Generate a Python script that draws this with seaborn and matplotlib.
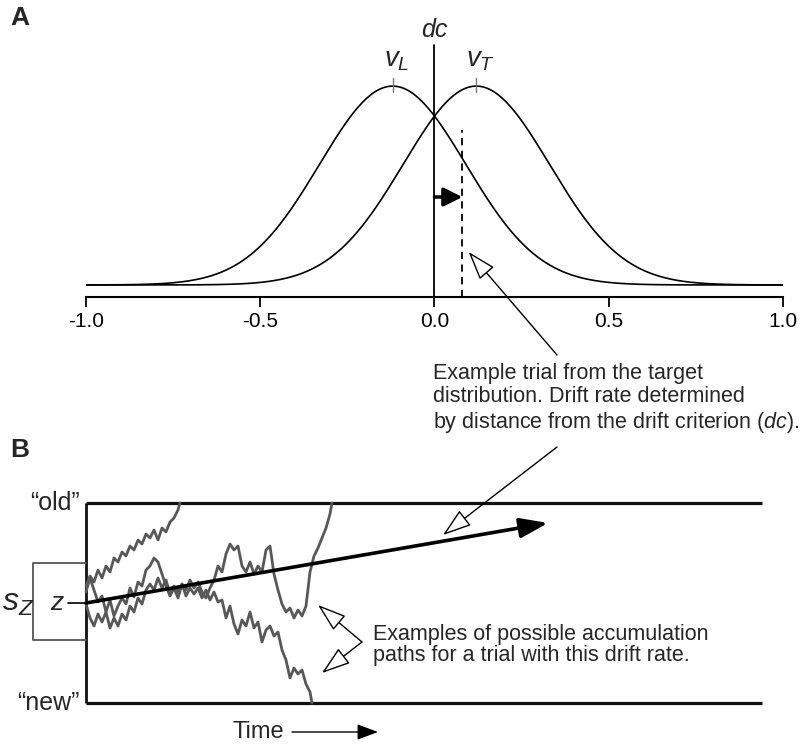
import numpy as np
import seaborn as sns
import matplotlib.pyplot as plt

# panel A: lure / target drift distributions
means = [-0.12, 0.12]          # v_L, v_T
mean_labels = [r'$v_L$', r'$v_T$']
sd = 0.21
drift_criterion = 0.0
trial_drift = 0.08
xticks = [-1.0, -0.5, 0.0, 0.5, 1.0]
xtick_labels = ['-1.0', '-0.5', '0.0', '0.5', '1.0']

# panel B: accumulation paths (time steps, evidence between "new"=0 and "old"=2)
bounds = [0.0, 2.0]
t_end = 676
z_start = 1.0
sz_range = [0.63, 1.40]
drift_end = [462, 1.80]

pathA_t = [0, 4, 8, 12, 16, 20, 24, 28, 32, 36, 40, 44, 48, 52, 56, 60, 64, 68, 72, 76,
           80, 84, 88, 92, 94]
pathA_e = [1.17, 1.27, 1.21, 1.33, 1.25, 1.37, 1.31, 1.45, 1.41, 1.51, 1.47, 1.57, 1.53,
           1.63, 1.59, 1.69, 1.65, 1.73, 1.63, 1.75, 1.71, 1.81, 1.85, 1.93, 2.00]

pathB_t = [0, 4, 8, 12, 16, 20, 24, 28, 32, 36, 40, 44, 48, 52, 56, 60, 64, 68, 72, 76,
           80, 84, 88, 92, 96, 100, 104, 108, 112, 116, 120, 124, 128, 132, 136, 140, 144,
           148, 152, 156, 160, 164, 168, 172, 176, 180, 184, 188, 192, 196, 200, 204, 208,
           212, 216, 220, 224, 228, 232, 236, 240, 244, 246]
pathB_e = [1.11, 1.25, 1.13, 1.01, 1.07, 0.91, 1.03, 0.87, 0.97, 1.05,
           0.99, 1.15, 1.06, 1.21, 1.17, 1.33, 1.37, 1.45, 1.41, 1.29,
           1.17, 1.07, 1.15, 1.05, 1.19, 1.13, 1.23, 1.15, 1.21, 1.11,
           1.05, 1.15, 1.23, 1.37, 1.31, 1.49, 1.59, 1.53, 1.57, 1.37,
           1.31, 1.41, 1.29, 1.37, 1.31, 1.53, 1.57, 1.29, 1.13, 0.99,
           0.91, 0.95, 0.85, 0.93, 0.87, 0.97, 1.31, 1.47, 1.55, 1.65,
           1.75, 1.89, 2.00]

pathC_t = [0, 4, 8, 12, 16, 20, 24, 28, 32, 36, 40, 44, 48, 52, 56, 60, 64, 68, 72, 76,
           80, 84, 88, 92, 96, 100, 104, 108, 112, 116, 120, 124, 128, 132, 136, 140, 144,
           148, 152, 156, 160, 164, 168, 172, 176, 180, 184, 188, 192, 196, 200, 204, 208,
           212, 216, 220, 224, 226]
pathC_e = [0.99, 0.85, 0.77, 0.89, 0.81, 0.91, 0.75, 0.85, 0.77, 0.89,
           0.83, 0.97, 0.91, 1.05, 0.99, 1.13, 1.19, 1.13, 1.25, 1.15,
           1.23, 1.09, 1.17, 1.11, 1.19, 1.07, 1.15, 1.09, 1.15, 1.05,
           1.13, 1.03, 1.11, 1.01, 1.03, 0.85, 0.97, 0.79, 0.69, 0.83,
           0.77, 0.91, 0.75, 0.81, 0.61, 0.73, 0.77, 0.67, 0.71, 0.53,
           0.43, 0.25, 0.35, 0.29, 0.33, 0.19, 0.11, 0.00]

sns.set_style('white')
plt.rcParams['font.family'] = ['Liberation Sans', 'DejaVu Sans']
plt.rcParams['mathtext.fontset'] = 'custom'
plt.rcParams['mathtext.it'] = 'Liberation Sans:italic'
plt.rcParams['mathtext.rm'] = 'Liberation Sans'

W, H = 804, 744


def fx(px):
    return px / W


def fy(py):
    return 1 - py / H


fig = plt.figure(figsize=(W / 100, H / 100), dpi=100)

# ---------- panel A ----------
axA = fig.add_axes([fx(86), fy(297), (783 - 86) / W, (297 - 40) / H])
axA.set_facecolor('none')
xs = np.linspace(-1, 1, 500)
for m in means:
    dens = np.exp(-(xs - m) ** 2 / (2 * sd ** 2)) / (sd * np.sqrt(2 * np.pi))
    sns.lineplot(x=xs, y=dens, ax=axA, color='black', lw=1.2)
peak = 1 / (sd * np.sqrt(2 * np.pi))

ymin = -0.115
axA.set_xlim(-1, 1)
axA.set_ylim(ymin, 2.34)
for s in ['top', 'left', 'right']:
    axA.spines[s].set_visible(False)
axA.spines['bottom'].set_linewidth(1.5)
axA.spines['bottom'].set_color('black')
axA.set_xticks(xticks)
axA.set_xticklabels(xtick_labels)
axA.set_yticks([])
axA.tick_params(axis='x', bottom=True, direction='out', length=7, width=1.3,
                pad=4, labelsize=15, colors='black')

axA.plot([drift_criterion, drift_criterion], [ymin, 2.29], color='black', lw=1.3,
         clip_on=False)
axA.plot([trial_drift, trial_drift], [ymin, 1.48], color='black', lw=1.3,
         ls=(0, (4, 3)))
for m, lab in zip(means, mean_labels):
    axA.plot([m, m], [peak - 0.06, peak + 0.08], color='#777777', lw=1, clip_on=False)
    axA.text(m + 0.012, 2.15, lab, ha='center', va='center', fontsize=20,
             clip_on=False)
axA.text(drift_criterion, 2.44, 'dc', ha='center', va='center', fontsize=18,
         style='italic', clip_on=False)

axA.annotate('', xy=(trial_drift, 0.84), xytext=(drift_criterion, 0.84),
             arrowprops=dict(arrowstyle='-|>,head_length=0.8,head_width=0.4',
                             mutation_scale=14, lw=2.5, color='black',
                             shrinkA=0, shrinkB=0))

hollow = dict(arrowstyle='-|>,head_length=0.9,head_width=0.3', mutation_scale=20,
              fc='white', ec='black', lw=1, shrinkA=0, shrinkB=0)
axA.annotate('', xy=(0.098, 0.315), xycoords='data',
             xytext=(fx(557), fy(355)), textcoords='figure fraction',
             arrowprops=hollow)

# ---------- panel B ----------
axB = fig.add_axes([0, 0, 1, (744 - 470) / H])
axB.set_facecolor('none')
axB.set_xlim(-86, 718)
axB.set_ylim(-0.41, 2.33)
axB.axis('off')

axB.hlines(bounds, 0, t_end, color='#111111', lw=2.3)
axB.vlines(0, bounds[0], bounds[1], color='#111111', lw=2.0)
axB.plot([0, -53, -53, 0], [sz_range[1], sz_range[1], sz_range[0], sz_range[0]],
         color='#555555', lw=1.3)
axB.plot([-18, 0], [z_start, z_start], color='black', lw=1.2)

for t, e in [(pathA_t, pathA_e), (pathB_t, pathB_e), (pathC_t, pathC_e)]:
    sns.lineplot(x=t, y=e, ax=axB, color='#585858', lw=2.0, sort=False, estimator=None)

axB.annotate('', xy=(drift_end[0], drift_end[1]), xytext=(0, z_start),
             arrowprops=dict(arrowstyle='-|>,head_length=0.85,head_width=0.3',
                             mutation_scale=20, lw=2.6, color='black',
                             shrinkA=0, shrinkB=0))

axB.text(-6, bounds[1], '\u201cold\u201d', ha='right', va='center', fontsize=18)
axB.text(-6, bounds[0], '\u201cnew\u201d', ha='right', va='center', fontsize=18)
axB.text(-68, z_start, r'$s_Z$', ha='center', va='center', fontsize=23)
axB.text(-29, z_start, 'z', ha='center', va='center', fontsize=19, style='italic')

axB.text(172, -0.29, 'Time', ha='center', va='center', fontsize=17)
axB.annotate('', xy=(292, -0.29), xytext=(206, -0.29),
             arrowprops=dict(arrowstyle='-|>,head_length=0.8,head_width=0.3',
                             mutation_scale=16, lw=1, color='black',
                             shrinkA=0, shrinkB=0))

axB.annotate('', xy=(357, 1.68), xycoords='data',
             xytext=(fx(557), fy(447)), textcoords='figure fraction',
             arrowprops=hollow)
for tip in [(232, 0.98), (236, 0.30)]:
    axB.annotate('', xy=tip, xytext=(276, 0.61), arrowprops=hollow)

# ---------- text ----------
fig.text(fx(10), fy(18), 'A', fontsize=19, fontweight='bold', va='center')
fig.text(fx(10), fy(450), 'B', fontsize=19, fontweight='bold', va='center')
fig.text(fx(433), fy(399),
         'Example trial from the target\n'
         'distribution. Drift rate determined\n'
         'by distance from the drift criterion ($dc$).',
         fontsize=15.5, va='center', ha='left', linespacing=1.15)
fig.text(fx(373), fy(645),
         'Examples of possible accumulation\n'
         'paths for a trial with this drift rate.',
         fontsize=15.5, va='center', ha='left', linespacing=1.0)

fig.savefig('out.png', dpi=100)
